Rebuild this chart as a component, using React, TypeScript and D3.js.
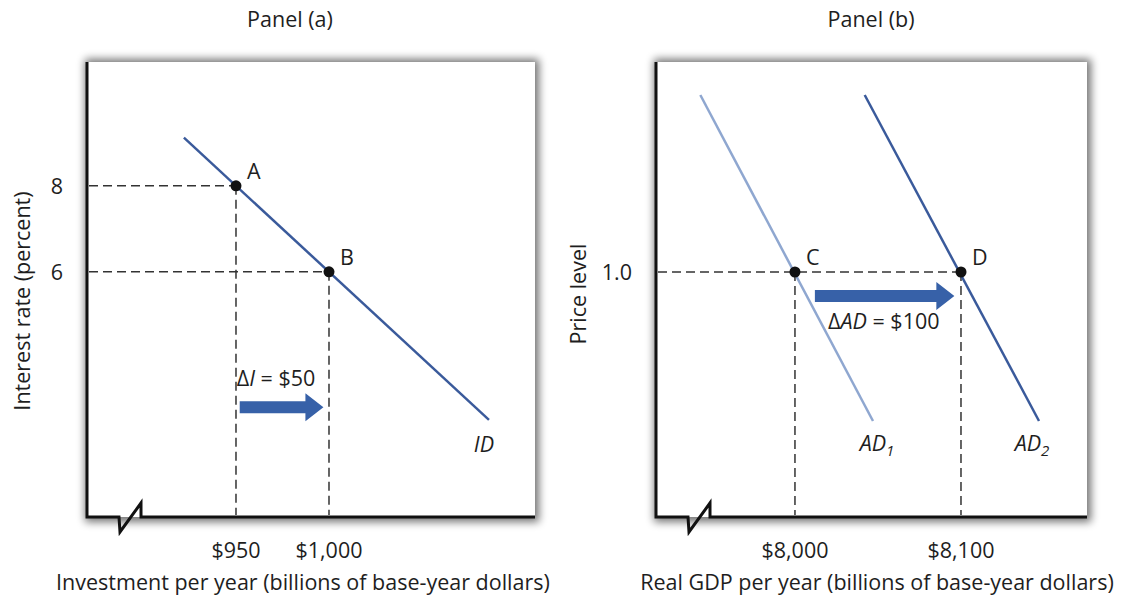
import * as d3 from 'd3'

// Panel (a): investment demand
const investmentTicks = [950, 1000]
const investmentTickLabels = ['$950', '$1,000']
const rateTicks = [8, 6]
const rateTickLabels = ['8', '6']
const idCurve: [number, number][] = [[922, 9.12], [1086, 2.56]]
const pointsA = [{ label: 'A', x: 950, y: 8 }, { label: 'B', x: 1000, y: 6 }]
const shiftI = [952, 997]
const shiftIRate = 2.85

// Panel (b): aggregate demand
const gdpTicks = [8000, 8100]
const gdpTickLabels = ['$8,000', '$8,100']
const priceTicks = [1.0]
const priceTickLabels = ['1.0']
const ad1Curve: [number, number][] = [[7943, 1.177], [8047, 0.851]]
const ad2Curve: [number, number][] = [[8042, 1.177], [8147, 0.851]]
const pointsB = [{ label: 'C', x: 8000, y: 1.0 }, { label: 'D', x: 8100, y: 1.0 }]
const shiftAD = [8012, 8096]
const shiftADPrice = 0.976

const FONT = "'Open Sans', 'Noto Sans', sans-serif"
const FS = 21.5
const TOP = 62
const BOTTOM = 517
const DARK_BLUE = '#3a5a9b'
const LIGHT_BLUE = '#8fa7d0'
const ARROW_BLUE = '#3761a8'
const TEXT = '#1e1e1e'

const arrowPath = (x0: number, x1: number, y: number) => {
  const head = 18, body = 6, hh = 14
  return `M${x0},${y - body}H${x1 - head}V${y - hh}L${x1},${y}L${x1 - head},${y + hh}V${y + body}H${x0}Z`
}

const Frame = ({ left, right, id }: { left: number, right: number, id: string }) => {
  const b0 = left + 32
  const b1 = left + 54
  return (
    <g>
      <rect x={left - 2} y={TOP - 3} width={right - left + 6} height={BOTTOM - TOP + 8} fill="#000" opacity={0.55} filter={`url(#${id})`} />
      <rect x={left} y={TOP} width={right - left} height={BOTTOM - TOP} fill="#fff" />
      <path d={`M${left},${TOP}V${BOTTOM}H${b0}L${b0 + 1},${BOTTOM + 15}L${b1},${BOTTOM - 14}V${BOTTOM}H${right}`}
        fill="none" stroke="#111" strokeWidth={3} strokeLinejoin="miter" />
    </g>
  )
}

const Dashes = ({ x, y, left }: { x: number, y: number, left: number }) => (
  <g stroke="#333" strokeWidth={1.5} strokeDasharray="9,5" fill="none">
    <line x1={left + 2} x2={x} y1={y} y2={y} />
    <line x1={x} x2={x} y1={y} y2={BOTTOM - 2} />
  </g>
)

const PanelA = () => {
  const left = 87, right = 535
  const x = d3.scaleLinear().domain([869.9, 1110.75]).range([left, right])
  const y = d3.scaleLinear().domain([0.3, 10.88]).range([BOTTOM, TOP])
  const line = d3.line<[number, number]>().x(d => x(d[0])).y(d => y(d[1]))
  return (
    <g fontFamily={FONT} fill={TEXT}>
      <text x={290} y={27} fontSize={FS} textAnchor="middle">Panel (a)</text>
      <Frame left={left} right={right} id="shadowA" />
      {pointsA.map(p => <Dashes key={p.label} x={x(p.x)} y={y(p.y)} left={left} />)}
      <path d={line(idCurve) ?? ''} stroke={DARK_BLUE} strokeWidth={2.5} fill="none" />
      {pointsA.map(p => (
        <g key={p.label}>
          <circle cx={x(p.x)} cy={y(p.y)} r={5.5} fill="#111" />
          <text x={x(p.x) + 11} y={y(p.y) - 7} fontSize={FS}>{p.label}</text>
        </g>
      ))}
      <path d={arrowPath(x(shiftI[0]), x(shiftI[1]), y(shiftIRate))} fill={ARROW_BLUE} />
      <text x={x(shiftI[0]) - 3} y={386} fontSize={FS}>Δ<tspan fontStyle="italic">I</tspan> = $50</text>
      <text x={x(idCurve[1][0]) - 5} y={452} fontSize={FS} fontStyle="italic" textAnchor="middle">ID</text>
      {rateTicks.map((t, i) => (
        <text key={t} x={left - 24} y={y(t) + 8} fontSize={FS} textAnchor="end">{rateTickLabels[i]}</text>
      ))}
      {investmentTicks.map((t, i) => (
        <text key={t} x={x(t)} y={558} fontSize={FS} textAnchor="middle">{investmentTickLabels[i]}</text>
      ))}
      <text x={303} y={590} fontSize={FS} textAnchor="middle">Investment per year (billions of base-year dollars)</text>
      <text transform="translate(30,301) rotate(-90)" fontSize={FS} textAnchor="middle">Interest rate (percent)</text>
    </g>
  )
}

const PanelB = () => {
  const left = 656, right = 1087
  const x = d3.scaleLinear().domain([7916.3, 8175.9]).range([left, right])
  const y = d3.scaleLinear().domain([0.755, 1.21]).range([BOTTOM, TOP])
  const line = d3.line<[number, number]>().x(d => x(d[0])).y(d => y(d[1]))
  return (
    <g fontFamily={FONT} fill={TEXT}>
      <text x={871} y={27} fontSize={FS} textAnchor="middle">Panel (b)</text>
      <Frame left={left} right={right} id="shadowB" />
      <line x1={left + 2} x2={x(pointsB[1].x)} y1={y(pointsB[0].y)} y2={y(pointsB[0].y)}
        stroke="#333" strokeWidth={1.5} strokeDasharray="9,5" />
      {pointsB.map(p => (
        <line key={p.label} x1={x(p.x)} x2={x(p.x)} y1={y(p.y)} y2={BOTTOM - 2}
          stroke="#333" strokeWidth={1.5} strokeDasharray="9,5" />
      ))}
      <path d={line(ad1Curve) ?? ''} stroke={LIGHT_BLUE} strokeWidth={2.5} fill="none" />
      <path d={line(ad2Curve) ?? ''} stroke={DARK_BLUE} strokeWidth={2.5} fill="none" />
      {pointsB.map(p => (
        <g key={p.label}>
          <circle cx={x(p.x)} cy={y(p.y)} r={5.5} fill="#111" />
          <text x={x(p.x) + 11} y={y(p.y) - 7} fontSize={FS}>{p.label}</text>
        </g>
      ))}
      <path d={arrowPath(x(shiftAD[0]), x(shiftAD[1]), y(shiftADPrice))} fill={ARROW_BLUE} />
      <text x={828} y={329} fontSize={FS}>Δ<tspan fontStyle="italic">AD</tspan> = $100</text>
      <text x={x(ad1Curve[1][0]) + 4} y={451} fontSize={FS} fontStyle="italic" textAnchor="middle">
        AD<tspan fontSize={15} dy={5}>1</tspan>
      </text>
      <text x={x(ad2Curve[1][0]) - 7} y={451} fontSize={FS} fontStyle="italic" textAnchor="middle">
        AD<tspan fontSize={15} dy={5}>2</tspan>
      </text>
      {priceTicks.map((t, i) => (
        <text key={t} x={left - 24} y={y(t) + 8} fontSize={FS} textAnchor="end">{priceTickLabels[i]}</text>
      ))}
      {gdpTicks.map((t, i) => (
        <text key={t} x={x(t)} y={558} fontSize={FS} textAnchor="middle">{gdpTickLabels[i]}</text>
      ))}
      <text x={877} y={590} fontSize={FS} textAnchor="middle">Real GDP per year (billions of base-year dollars)</text>
      <text transform="translate(586,294) rotate(-90)" fontSize={FS} textAnchor="middle">Price level</text>
    </g>
  )
}

export default function App() {
  return (
    <svg width={1130} height={601} style={{ position: 'absolute', left: 0, top: 0, background: '#fff' }}>
      <defs>
        <filter id="shadowA" x="-10%" y="-10%" width="120%" height="120%">
          <feGaussianBlur stdDeviation={4} />
        </filter>
        <filter id="shadowB" x="-10%" y="-10%" width="120%" height="120%">
          <feGaussianBlur stdDeviation={4} />
        </filter>
      </defs>
      <PanelA />
      <PanelB />
    </svg>
  )
}
